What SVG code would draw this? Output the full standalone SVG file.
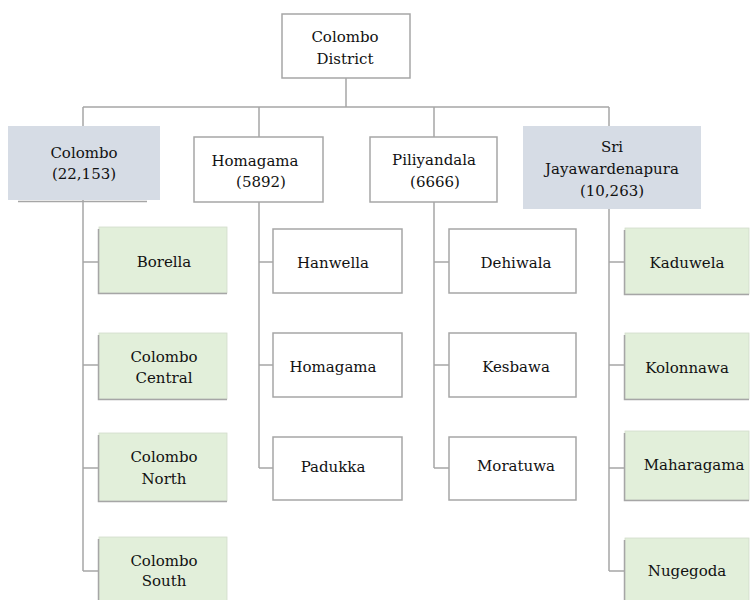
<svg xmlns="http://www.w3.org/2000/svg" width="751" height="600" viewBox="0 0 751 600">
<style>
.box{fill:#ffffff;stroke:#a6a6a6;stroke-width:1.5}
.gray{fill:#d6dce5}
.green{fill:#e2efda;stroke:#d3dccb;stroke-width:0.8}
.edge{fill:none;stroke:#a6a6a6;stroke-width:1.5}
.conn{fill:none;stroke:#a6a6a6;stroke-width:1.5}
text{font-family:'DejaVu Serif','Liberation Serif',serif;font-size:15px;fill:#111111;text-anchor:middle}
</style>
<rect width="751" height="600" fill="#ffffff"/>
<g id="connectors">
<path class="conn" d="M346 78V107M83 107H609M83 107V126M259 107V137M434 107V137M609 107V126"/>
<path class="conn" d="M83 200V571M83 262H98M83 365H98M83 468H98M83 571H98"/>
<path class="conn" d="M259 202V468M259 262H273M259 365H273M259 468H273"/>
<path class="conn" d="M434 202V468M434 262H449M434 365H449M434 468H449"/>
<path class="conn" d="M609 209V571M609 262H624M609 365H624M609 468H624M609 571H624"/>
</g>
<g id="district">
<rect class="box" x="282" y="14" width="128" height="64"/>
<text x="345" y="42">Colombo</text>
<text x="345" y="64">District</text>
</g>
<g id="colombo">
<rect class="gray" x="8" y="126" width="152" height="74"/>
<path class="edge" d="M18 201.5H147"/>
<text x="84" y="158">Colombo</text>
<text x="84" y="179">(22,153)</text>
</g>
<g id="homagama">
<rect class="box" x="194" y="137" width="129" height="65"/>
<text x="255" y="166">Homagama</text>
<text x="261" y="187">(5892)</text>
</g>
<g id="piliyandala">
<rect class="box" x="370" y="137" width="127" height="65"/>
<text x="434" y="165">Piliyandala</text>
<text x="435" y="187">(6666)</text>
</g>
<g id="srijayawardenapura">
<rect class="gray" x="523" y="126" width="178" height="83"/>
<text x="612" y="152">Sri</text>
<text x="612" y="174">Jayawardenapura</text>
<text x="612" y="196">(10,263)</text>
</g>
<g id="borella">
<rect class="green" x="99" y="227" width="128" height="66"/>
<path class="edge" d="M98.5 229V293.5H227"/>
<text x="164" y="267">Borella</text>
</g>
<g id="colombo-central">
<rect class="green" x="99" y="333" width="128" height="66"/>
<path class="edge" d="M98.5 335V399.5H227"/>
<text x="164" y="362">Colombo</text>
<text x="164" y="383">Central</text>
</g>
<g id="colombo-north">
<rect class="green" x="99" y="433" width="128" height="68"/>
<path class="edge" d="M98.5 435V501.5H227"/>
<text x="164" y="462">Colombo</text>
<text x="164" y="484">North</text>
</g>
<g id="colombo-south">
<rect class="green" x="99" y="537" width="128" height="70"/>
<path class="edge" d="M98.5 539V607"/>
<text x="164" y="566">Colombo</text>
<text x="164" y="586">South</text>
</g>
<g id="hanwella">
<rect class="box" x="273" y="229" width="129" height="64"/>
<text x="333" y="268">Hanwella</text>
</g>
<g id="homagama-ds">
<rect class="box" x="273" y="333" width="129" height="64"/>
<text x="333" y="372">Homagama</text>
</g>
<g id="padukka">
<rect class="box" x="273" y="437" width="129" height="63"/>
<text x="333" y="472">Padukka</text>
</g>
<g id="dehiwala">
<rect class="box" x="449" y="229" width="127" height="64"/>
<text x="516" y="268">Dehiwala</text>
</g>
<g id="kesbawa">
<rect class="box" x="449" y="333" width="127" height="64"/>
<text x="516" y="372">Kesbawa</text>
</g>
<g id="moratuwa">
<rect class="box" x="449" y="437" width="127" height="63"/>
<text x="516" y="471">Moratuwa</text>
</g>
<g id="kaduwela">
<rect class="green" x="625" y="228" width="124" height="66"/>
<path class="edge" d="M624.5 230V294.5H749"/>
<text x="687" y="268">Kaduwela</text>
</g>
<g id="kolonnawa">
<rect class="green" x="625" y="333" width="124" height="66"/>
<path class="edge" d="M624.5 335V399.5H749"/>
<text x="687" y="373">Kolonnawa</text>
</g>
<g id="maharagama">
<rect class="green" x="625" y="431" width="124" height="69"/>
<path class="edge" d="M624.5 433V500.5H749"/>
<text x="694" y="470">Maharagama</text>
</g>
<g id="nugegoda">
<rect class="green" x="625" y="538" width="124" height="70"/>
<path class="edge" d="M624.5 540V608"/>
<text x="687" y="576">Nugegoda</text>
</g>
</svg>
